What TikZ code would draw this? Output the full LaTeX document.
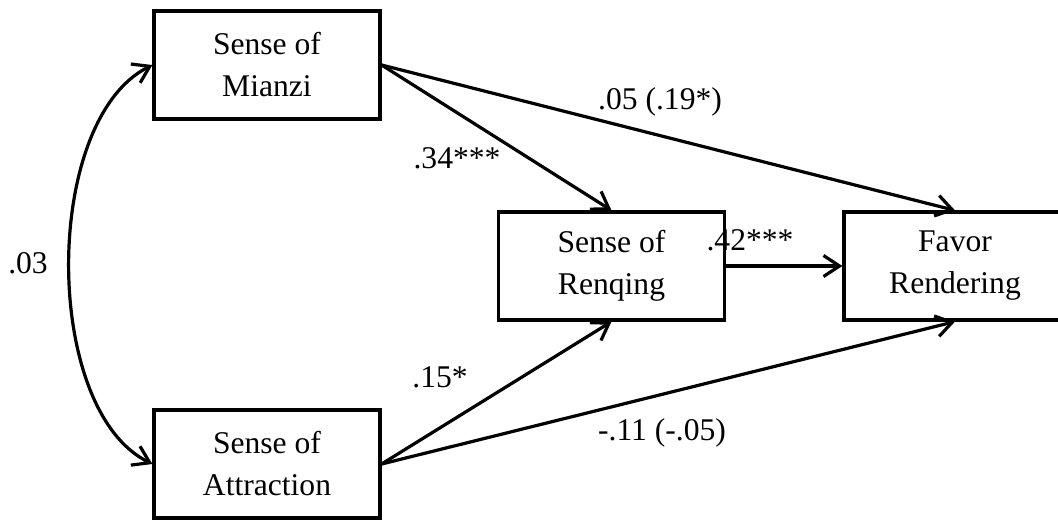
\documentclass[tikz,border=0pt]{standalone}
\usepackage{fontspec}
\setmainfont{Liberation Serif}
\usetikzlibrary{arrows.meta}
\begin{document}
\begin{tikzpicture}[x=0.5pt,y=-0.5pt,
  varbox/.style={draw,line width=1.6pt,minimum width=113pt,minimum height=54pt,inner sep=0pt,align=center,font=\fontsize{15.8}{21}\selectfont},
  lbl/.style={inner sep=0pt,font=\fontsize{15.8}{19}\selectfont},
  path/.style={line width=1.6pt,-{Straight Barb[length=8pt,width=10.5pt]}}]
\useasboundingbox (0,0) rectangle (1058,519);
\node[varbox] (M) at (267,65) {Sense of\\Mianzi};
\node[varbox] (A) at (267,464) {Sense of\\Attraction};
\node[varbox] (R) at (611.5,266) {Sense of\\Renqing};
\node[varbox,minimum width=111pt] (F) at (955,266) {Favor\\Rendering};
\draw[path] (M.east) -- (R.north);
\draw[path] (M.east) -- (F.north);
\draw[path] (R.east) -- (F.west);
\draw[path] (A.east) -- (R.south);
\draw[path] (A.east) -- (F.south);
\draw[path,{Straight Barb[length=8pt,width=10.5pt]}-{Straight Barb[length=8pt,width=10.5pt]}] (M.west) .. controls (42,120) and (42,410) .. (A.west);
\node[lbl] (l03) at (28,263) {.03};
\node[lbl] (l34) at (457,158) {.34***};
\node[lbl] (l05) at (660,102) {.05 (.19*)};
\node[lbl] (l42) at (750,240) {.42***};
\node[lbl] (l15) at (440,377) {.15*};
\node[lbl] (l11) at (662,433) {-.11 (-.05)};
\end{tikzpicture}
\end{document}
